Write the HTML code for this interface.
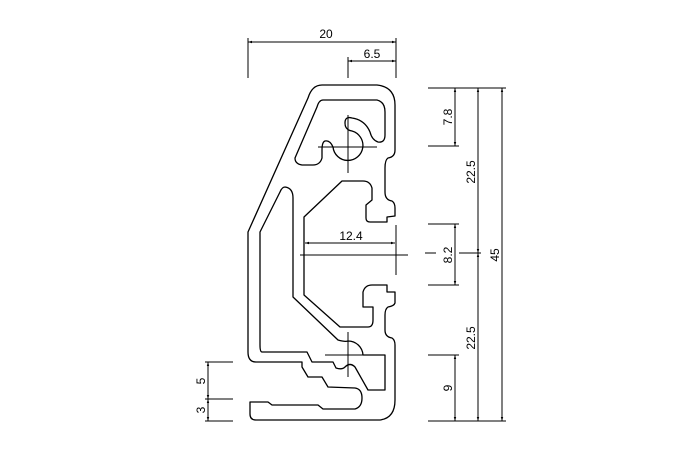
<!DOCTYPE html>
<html><head><meta charset="utf-8"><style>
html,body{margin:0;padding:0;background:#fff;width:700px;height:450px;overflow:hidden}
svg{display:block}
text{font-family:"Liberation Sans",sans-serif;font-size:12px;fill:#000}
</style></head><body>
<svg width="700" height="450" viewBox="0 0 700 450" xmlns="http://www.w3.org/2000/svg">
<defs>
<marker id="a" viewBox="0 0 10 10" refX="10" refY="5" markerWidth="6" markerHeight="4" orient="auto-start-reverse"><path d="M0,2 L10,5 L0,8 z" fill="#000"/></marker>
</defs>
<g fill="none" stroke="#000" stroke-width="1.3" stroke-linejoin="round">
<!-- outer contour -->
<path d="M322,85 L377,85 Q395,87 395,105 L395,150 Q395,157 388,158 Q385,160 385,168 L385,192 Q385,200 392,201 Q395,203 395,208 L395,216 L387,217 L387,222 L370,222 Q366,222 366,218 L366,205 L372,200 L372,188 Q370,181 363,181 L342,181 L304,217 L304,295 L340,327 L368,327 Q373,327 373,320 L373,307 L363,307 L363,292 Q365,285 372,285 L387,285 L387,292 L395,292 L395,303 Q394,306 388,307 Q385,309 385,315 L385,330 Q385,337 392,338 Q395,340 395,345 L395,400 Q395,418 380,420 L256,420 Q250,420 250,414 L250,402 L268,402 L272,405 L318,405 L323,409 L355,409 Q362,407 362,398 Q362,389 355,388 L328,387 L322,377 L308,377 L302,367 L302,362 L256,362 Q248,362 248,352 L248,232 L308,98 Q312,85 322,85 Z"/>
<!-- top cavity -->
<path d="M323,100 L377,100 Q385,102 385,112 L385,135 Q385,143 378,142 Q372,140 370,132 Q365,120 352,118 Q345,116 345,123 Q345,130 352,131 A15,15 0 1 1 333,147 Q330,140 325,141 Q322,142 322,150 L322,158 Q320,165 313,165 L302,165 Q295,164 295,158 L317,107 Q319,100 323,100 Z"/>
<!-- left cavity -->
<path d="M285,187 Q293,188 293,198 L293,297 L338,340 Q345,342 348,341 A15,15 0 0 1 363,355 L385,355 L385,390 L368,390 L355,367 Q350,362 345,367 Q342,370 336,368 L333,362 L312,362 L307,352 L262,352 Q260,352 260,345 L260,232 L280,192 Q282,187 285,187 Z"/>
</g>
<g fill="none" stroke="#000" stroke-width="1">
<line x1="318" y1="147" x2="377" y2="147"/><line x1="348" y1="115" x2="348" y2="173"/>
<line x1="325" y1="355" x2="385" y2="355"/><line x1="348" y1="332" x2="348" y2="377"/>
<line x1="300" y1="255" x2="408" y2="255"/>
<line x1="396" y1="225" x2="396" y2="275"/>
<line x1="305" y1="243" x2="395" y2="243" marker-start="url(#a)" marker-end="url(#a)"/>
<line x1="248" y1="38" x2="248" y2="78"/><line x1="396" y1="38" x2="396" y2="78"/><line x1="348" y1="57" x2="348" y2="78"/>
<line x1="248" y1="42" x2="396" y2="42" marker-start="url(#a)" marker-end="url(#a)"/>
<line x1="348" y1="61" x2="396" y2="61" marker-start="url(#a)" marker-end="url(#a)"/>
<line x1="428" y1="88" x2="506" y2="88"/><line x1="428" y1="421" x2="506" y2="421"/>
<line x1="428" y1="146" x2="459" y2="146"/><line x1="428" y1="224" x2="459" y2="224"/>
<line x1="428" y1="285" x2="459" y2="285"/><line x1="428" y1="355" x2="459" y2="355"/>
<line x1="425" y1="253" x2="436" y2="253"/><line x1="459" y1="253" x2="481" y2="253"/>
<line x1="455" y1="88" x2="455" y2="146" marker-start="url(#a)" marker-end="url(#a)"/>
<line x1="455" y1="224" x2="455" y2="285" marker-start="url(#a)" marker-end="url(#a)"/>
<line x1="455" y1="355" x2="455" y2="421" marker-start="url(#a)" marker-end="url(#a)"/>
<line x1="478" y1="88" x2="478" y2="253" marker-start="url(#a)" marker-end="url(#a)"/>
<line x1="478" y1="253" x2="478" y2="421" marker-start="url(#a)" marker-end="url(#a)"/>
<line x1="502" y1="88" x2="502" y2="421" marker-start="url(#a)" marker-end="url(#a)"/>
<line x1="205" y1="362" x2="233" y2="362"/><line x1="205" y1="399" x2="233" y2="399"/><line x1="205" y1="421" x2="233" y2="421"/>
<line x1="208" y1="362" x2="208" y2="399" marker-start="url(#a)" marker-end="url(#a)"/>
<line x1="208" y1="399" x2="208" y2="421" marker-start="url(#a)" marker-end="url(#a)"/>
</g>
<text x="326" y="38" text-anchor="middle">20</text>
<text x="372" y="58" text-anchor="middle">6.5</text>
<text x="351" y="240" text-anchor="middle">12.4</text>
<text transform="translate(452,117) rotate(-90)" text-anchor="middle">7.8</text>
<text transform="translate(452,255) rotate(-90)" text-anchor="middle">8.2</text>
<text transform="translate(452,388) rotate(-90)" text-anchor="middle">9</text>
<text transform="translate(475,172) rotate(-90)" text-anchor="middle">22.5</text>
<text transform="translate(475,338) rotate(-90)" text-anchor="middle">22.5</text>
<text transform="translate(499,255) rotate(-90)" text-anchor="middle">45</text>
<text transform="translate(205,381) rotate(-90)" text-anchor="middle">5</text>
<text transform="translate(205,410) rotate(-90)" text-anchor="middle">3</text>
</svg>
</body></html>
